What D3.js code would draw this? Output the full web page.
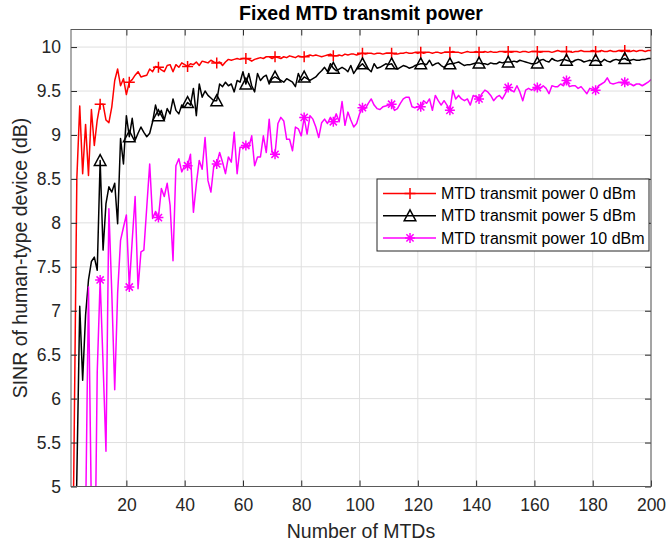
<!DOCTYPE html>
<html>
<head>
<meta charset="utf-8">
<script src="https://cdn.jsdelivr.net/npm/d3@7"></script>
<style>
  html, body { margin: 0; padding: 0; background: #ffffff; }
  svg { display: block; font-family: "Liberation Sans", Arial, Helvetica, sans-serif; }
</style>
</head>
<body>
<svg id="chart" width="668" height="541"></svg>
<script>
// ---------------- data ----------------
const title = "Fixed MTD transmit power";
const xLabel = "Number of MTDs";
const yLabel = "SINR of human-type device (dB)";
const seriesNames = ["MTD transmit power 0 dBm", "MTD transmit power 5 dBm", "MTD transmit power 10 dBm"];
const xTicks = [20, 40, 60, 80, 100, 120, 140, 160, 180, 200];
const yTicks = [5, 5.5, 6, 6.5, 7, 7.5, 8, 8.5, 9, 9.5, 10];

const power0dBm = [
  2.5, 5.3, 8.5, 9.33, 8.56, 9.12, 8.54, 9.29, 8.88, 9.17,
  9.35, 9.35, 9.17, 9.14, 9.32, 9.62, 9.75, 9.56, 9.64, 9.46,
  9.6, 9.63, 9.68, 9.72, 9.66, 9.67, 9.68, 9.75, 9.72, 9.78,
  9.77, 9.74, 9.72, 9.79, 9.8, 9.72, 9.8, 9.77, 9.82, 9.8,
  9.78, 9.81, 9.8, 9.83, 9.79, 9.84, 9.83, 9.82, 9.85, 9.83,
  9.82, 9.83, 9.79, 9.83, 9.86, 9.85, 9.86, 9.87, 9.86, 9.87,
  9.87, 9.86, 9.84, 9.86, 9.87, 9.88, 9.87, 9.89, 9.89, 9.87,
  9.89, 9.88, 9.87, 9.89, 9.88, 9.9, 9.89, 9.88, 9.9, 9.89,
  9.89, 9.9, 9.91, 9.9, 9.91, 9.9, 9.89, 9.9, 9.91, 9.92,
  9.9, 9.9, 9.91, 9.9, 9.92, 9.91, 9.92, 9.92, 9.91, 9.92,
  9.93, 9.92, 9.93, 9.93, 9.92, 9.93, 9.93, 9.92, 9.93, 9.93,
  9.93, 9.92, 9.92, 9.93, 9.93, 9.94, 9.93, 9.93, 9.94, 9.93,
  9.94, 9.93, 9.94, 9.94, 9.93, 9.94, 9.94, 9.93, 9.94, 9.94,
  9.94, 9.95, 9.94, 9.94, 9.93, 9.94, 9.95, 9.94, 9.94, 9.95,
  9.94, 9.94, 9.95, 9.94, 9.95, 9.94, 9.94, 9.95, 9.95, 9.94,
  9.95, 9.94, 9.95, 9.95, 9.94, 9.95, 9.95, 9.94, 9.95, 9.95,
  9.95, 9.94, 9.95, 9.95, 9.95, 9.94, 9.95, 9.96, 9.95, 9.95,
  9.95, 9.95, 9.94, 9.95, 9.95, 9.96, 9.95, 9.95, 9.95, 9.96,
  9.95, 9.95, 9.96, 9.95, 9.95, 9.96, 9.95, 9.95, 9.96, 9.95,
  9.96, 9.95, 9.95, 9.96, 9.95, 9.96, 9.96, 9.95, 9.96, 9.96
];

const power5dBm = [
  2.0, 3.5, 5.1, 7.05, 6.21, 6.95, 7.35, 7.56, 7.61, 7.46,
  8.71, 7.69, 8.22, 8.41, 8.35, 8.45, 7.99, 8.96, 8.67, 9.22,
  8.98, 9.19, 8.94, 9.02, 9.09, 9.03, 8.98, 9.02, 9.15, 9.34,
  9.22, 9.28, 9.17, 9.3, 9.24, 9.41, 9.28, 9.24, 9.34, 9.32,
  9.37, 9.34, 9.53, 9.22, 9.58, 9.43, 9.5, 9.45, 9.42, 9.39,
  9.39, 9.58, 9.55, 9.6, 9.56, 9.58, 9.49, 9.62, 9.6, 9.72,
  9.58, 9.7, 9.56, 9.49, 9.7, 9.62, 9.66, 9.68, 9.58, 9.64,
  9.66, 9.64, 9.62, 9.6, 9.64, 9.62, 9.6, 9.55, 9.7, 9.62,
  9.66, 9.64, 9.62, 9.64, 9.66, 9.7, 9.73, 9.77, 9.72, 9.81,
  9.76, 9.73, 9.75, 9.77, 9.75, 9.72, 9.79, 9.7, 9.75, 9.78,
  9.81, 9.77, 9.75, 9.72, 9.81, 9.76, 9.77, 9.79, 9.81, 9.8,
  9.81, 9.76, 9.75, 9.77, 9.79, 9.78, 9.76, 9.77, 9.79, 9.8,
  9.81, 9.81, 9.8, 9.85, 9.79, 9.81, 9.82, 9.79, 9.77, 9.8,
  9.81, 9.81, 9.82, 9.83, 9.81, 9.79, 9.8, 9.8, 9.81, 9.82,
  9.82, 9.81, 9.81, 9.8, 9.82, 9.81, 9.81, 9.83, 9.82, 9.83,
  9.83, 9.83, 9.84, 9.83, 9.85, 9.84, 9.83, 9.82, 9.81, 9.81,
  9.82, 9.85, 9.86, 9.84, 9.83, 9.87, 9.85, 9.84, 9.85, 9.86,
  9.85, 9.84, 9.83, 9.85, 9.86, 9.85, 9.83, 9.84, 9.85, 9.84,
  9.85, 9.84, 9.83, 9.86, 9.84, 9.83, 9.85, 9.86, 9.85, 9.86,
  9.87, 9.85, 9.85, 9.86, 9.85, 9.85, 9.86, 9.86, 9.87, 9.87
];

const power10dBm = [
  3.0, 3.5, 4.2, 4.0, 4.5, 4.6, 7.27, 4.7, 3.5, 6.3,
  7.35, 6.4, 5.4, 8.16, 7.2, 6.1, 7.2, 7.8, 7.95, 8.09,
  7.27, 7.8, 8.3, 7.25, 7.67, 7.69, 8.18, 8.67, 8.05, 8.13,
  8.06, 8.39, 8.3, 8.45, 8.2, 7.57, 8.65, 8.73, 8.58, 8.65,
  8.65, 8.78, 8.12, 8.44, 8.71, 8.61, 8.97, 8.48, 8.35, 8.65,
  8.67, 8.8, 8.69, 8.56, 8.75, 8.69, 9.03, 8.56, 8.86, 8.86,
  8.88, 8.86, 8.99, 8.65, 8.75, 8.75, 8.99, 8.8, 9.18, 8.8,
  8.78, 9.13, 9.2, 9.16, 8.95, 8.95, 8.82, 9.09, 9.07, 8.99,
  9.2, 9.01, 9.22, 9.18, 9.09, 8.97, 9.14, 9.18, 9.13, 9.2,
  9.15, 9.24, 9.15, 9.38, 9.11, 9.26, 9.17, 9.09, 9.13, 9.24,
  9.31, 9.3, 9.36, 9.41, 9.34, 9.3, 9.29, 9.32, 9.33, 9.34,
  9.35, 9.28, 9.3, 9.36, 9.41, 9.43, 9.43, 9.32, 9.31, 9.32,
  9.32, 9.39, 9.36, 9.41, 9.28, 9.45, 9.39, 9.34, 9.39, 9.34,
  9.28, 9.51, 9.41, 9.45, 9.41, 9.39, 9.41, 9.34, 9.45, 9.43,
  9.41, 9.47, 9.51, 9.49, 9.45, 9.39, 9.43, 9.45, 9.41, 9.47,
  9.54, 9.51, 9.49, 9.56, 9.49, 9.39, 9.51, 9.53, 9.51, 9.53,
  9.54, 9.53, 9.56, 9.53, 9.47, 9.56, 9.55, 9.55, 9.58, 9.56,
  9.62, 9.55, 9.56, 9.56, 9.53, 9.55, 9.51, 9.47, 9.53, 9.52,
  9.51, 9.56, 9.58, 9.6, 9.65, 9.59, 9.58, 9.59, 9.6, 9.59,
  9.6, 9.58, 9.58, 9.56, 9.58, 9.58, 9.56, 9.58, 9.6, 9.63
];

// ---------------- layout ----------------
const W = 668, H = 541;
const margin = { left: 71, right: 17, top: 29.5, bottom: 54.5 };
const plotW = W - margin.left - margin.right;
const plotH = H - margin.top - margin.bottom;

const svg = d3.select("#chart");
const g = svg.append("g").attr("transform", `translate(${margin.left},${margin.top})`);

const x = d3.scaleLinear().domain([1, 200]).range([0, plotW]);
const y = d3.scaleLinear().domain([5, 10.2]).range([plotH, 0]);

const axisColor = "#262626";
const tickFont = 17.5;

// background
g.append("rect").attr("width", plotW).attr("height", plotH).attr("fill", "#fff");

// grid
g.append("g").selectAll("line.gx").data(xTicks).join("line")
  .attr("x1", d => x(d)).attr("x2", d => x(d)).attr("y1", 0).attr("y2", plotH)
  .attr("stroke", "#dfdfdf").attr("stroke-width", 1);
g.append("g").selectAll("line.gy").data(yTicks).join("line")
  .attr("x1", 0).attr("x2", plotW).attr("y1", d => y(d)).attr("y2", d => y(d))
  .attr("stroke", "#dfdfdf").attr("stroke-width", 1);

// clip
svg.append("defs").append("clipPath").attr("id", "plotclip")
  .append("rect").attr("width", plotW).attr("height", plotH);

const series = [
  { name: seriesNames[0], values: power0dBm, color: "#ff0000", marker: "plus" },
  { name: seriesNames[1], values: power5dBm, color: "#000000", marker: "tri" },
  { name: seriesNames[2], values: power10dBm, color: "#ff00ff", marker: "star" }
];

const markerPath = {
  plus: "M-5.5,0H5.5M0,-5.5V5.5",
  tri: "M0,-5.8L5.8,5L-5.8,5Z",
  star: "M-5,0H5M0,-5V5M-3.6,-3.6L3.6,3.6M-3.6,3.6L3.6,-3.6"
};

const line = d3.line().x((d, i) => x(i + 1)).y(d => y(d));
const plotLayer = g.append("g").attr("clip-path", "url(#plotclip)");

// draw lines (magenta first so red on top like MATLAB order reversed? keep plot order)
series.forEach(s => {
  plotLayer.append("path").datum(s.values)
    .attr("d", line).attr("fill", "none")
    .attr("stroke", s.color).attr("stroke-width", 1.5)
    .attr("stroke-linejoin", "round");
  const idx = d3.range(0, 200, 10);
  plotLayer.append("g").selectAll("path").data(idx).join("path")
    .attr("transform", i => `translate(${x(i + 1)},${y(s.values[i])})`)
    .attr("d", markerPath[s.marker])
    .attr("fill", "none").attr("stroke", s.color).attr("stroke-width", 1.5);
});

// axes box + ticks
const xAxisB = d3.axisBottom(x).tickValues(xTicks).tickSize(-6).tickPadding(12).tickFormat(d3.format("d"));
const xAxisT = d3.axisTop(x).tickValues(xTicks).tickSize(-6).tickFormat("");
const yAxisL = d3.axisLeft(y).tickValues(yTicks).tickSize(-6).tickPadding(10).tickFormat(d => d3.format("")(d));
const yAxisR = d3.axisRight(y).tickValues(yTicks).tickSize(-6).tickFormat("");

function styleAxis(sel) {
  sel.select(".domain").remove();
  sel.selectAll(".tick line").attr("stroke", axisColor).attr("stroke-width", 1);
  sel.selectAll(".tick text").attr("fill", "#262626").attr("font-size", tickFont)
    .attr("font-family", "Liberation Sans, Arial, sans-serif");
}
g.append("g").attr("transform", `translate(0,${plotH})`).call(xAxisB).call(styleAxis);
g.append("g").call(xAxisT).call(styleAxis);
g.append("g").call(yAxisL).call(styleAxis);
g.append("g").attr("transform", `translate(${plotW},0)`).call(yAxisR).call(styleAxis);

g.append("rect").attr("width", plotW).attr("height", plotH)
  .attr("fill", "none").attr("stroke", "#5a5a5a").attr("stroke-width", 1);

// title and labels
svg.append("text").attr("x", margin.left + plotW / 2).attr("y", 20)
  .attr("text-anchor", "middle").attr("font-weight", "bold").attr("font-size", 19.5)
  .attr("fill", "#000").text(title);
svg.append("text").attr("x", margin.left + plotW / 2).attr("y", 538)
  .attr("text-anchor", "middle").attr("font-size", 19.5).attr("fill", "#262626").text(xLabel);
svg.append("text").attr("transform", `translate(27,${margin.top + plotH / 2}) rotate(-90)`)
  .attr("text-anchor", "middle").attr("font-size", 19.5).attr("fill", "#262626").text(yLabel);

// legend
const lg = svg.append("g").attr("transform", "translate(377,179)");
lg.append("rect").attr("width", 272).attr("height", 72)
  .attr("fill", "#fff").attr("stroke", "#262626").attr("stroke-width", 1);
series.forEach((s, i) => {
  const cy = 14.5 + i * 22.2;
  lg.append("line").attr("x1", 6).attr("x2", 59).attr("y1", cy).attr("y2", cy)
    .attr("stroke", s.color).attr("stroke-width", 1.5);
  lg.append("path").attr("transform", `translate(33,${cy})`).attr("d", markerPath[s.marker])
    .attr("fill", "none").attr("stroke", s.color).attr("stroke-width", 1.5);
  lg.append("text").attr("x", 64).attr("y", cy).attr("dy", "0.35em")
    .attr("font-size", 16).attr("fill", "#000").text(s.name);
});
</script>
</body>
</html>
